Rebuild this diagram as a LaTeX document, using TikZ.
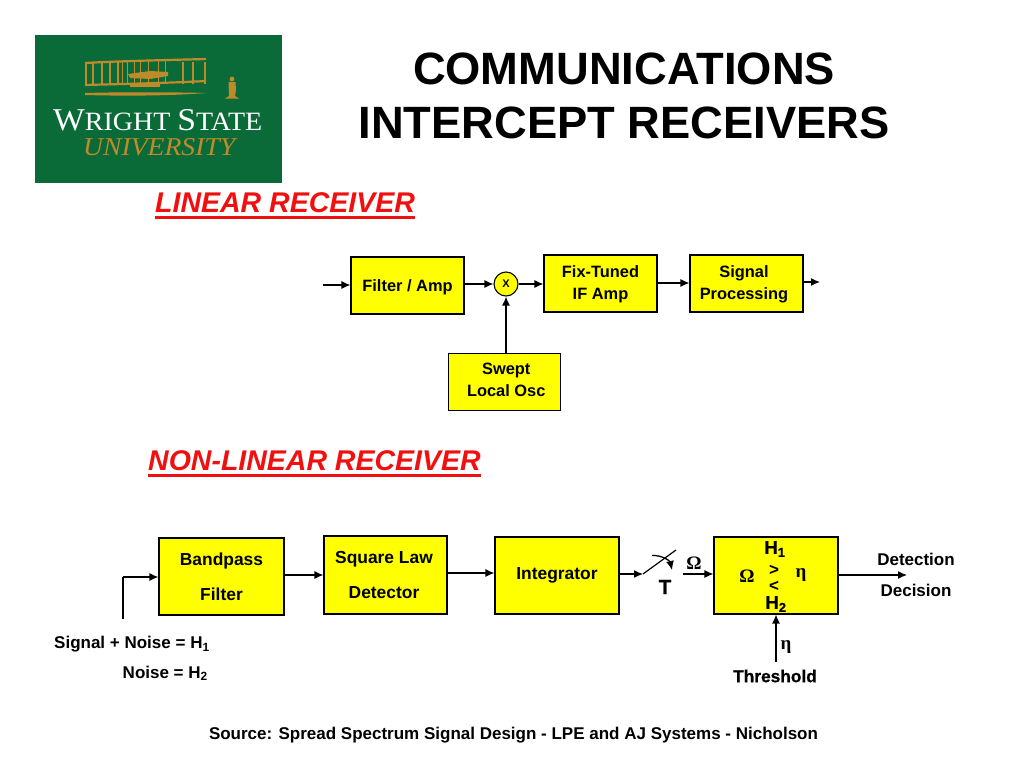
\documentclass[tikz,border=0pt]{standalone}
\usepackage{graphicx}
\usepackage{fontspec}
\setmainfont{Liberation Sans}
\newfontfamily\symserif{Liberation Serif}
\newfontfamily\logoserif{Liberation Serif}
\newfontfamily\heavy[FakeBold=0.7]{Liberation Sans Bold}
\usetikzlibrary{arrows.meta}
\definecolor{boxyellow}{HTML}{FFFF00}
\definecolor{logogreen}{HTML}{0B6B38}
\definecolor{logogold}{HTML}{BE8A2A}
\definecolor{headred}{HTML}{F01010}
\tikzset{
  x=1pt,y=-1pt,
  flow/.style={line width=1.3pt,-{Latex[length=9pt,width=8pt]}},
  block/.style={draw=black,line width=1.1pt,fill=boxyellow,inner sep=0pt,align=center,text=black,font=\fontsize{16.4}{22}\selectfont\bfseries},
  wideblock/.style={block,font=\fontsize{17.4}{35}\selectfont\bfseries},
  lab/.style={inner sep=0pt,text=black,font=\fontsize{17}{20}\selectfont\bfseries},
  greek/.style={inner sep=0pt,text=black,font=\fontsize{19}{20}\selectfont\symserif\bfseries},
  hv/.style={inner sep=0pt,text=black,font=\fontsize{17.3}{20}\selectfont\heavy},
  hvbig/.style={inner sep=0pt,text=black,font=\fontsize{18.5}{20}\selectfont\heavy},
  titletext/.style={inner sep=0pt,font=\fontsize{45.3}{54}\selectfont\bfseries,align=center},
  headtext/.style={inner sep=0pt,text=headred,font=\fontsize{28.5}{30}\selectfont\bfseries\itshape},
  headline/.style={headred,line width=2.7pt},
  gold/.style={draw=logogold,line width=1.3pt},
}
\begin{document}
\begin{tikzpicture}
\useasboundingbox (0,0) rectangle (1024,768);
\fill[white] (0,0) rectangle (1024,768);
% logo
\fill[logogreen] (35,35) rectangle (282,183);
\draw[gold,line width=2.2pt] (85,63) .. controls (120,61) and (170,60) .. (206,59);
\draw[gold,line width=2.2pt] (85,85) .. controls (120,84) and (170,83) .. (206,81);
\foreach \xx in {86,93,102,110,118,183,193,205}{\draw[gold] (\xx,62) -- (\xx,84);}
\foreach \xx in {122,127,134,140,148,158,165}{\draw[gold,line width=.8pt] (\xx,61) -- (\xx,84);}
\fill[logogold] (128,74) -- (150,71) -- (168,72) -- (168,76) -- (150,79) -- (130,78) -- cycle;
\fill[logogold] (130,84) rectangle (160,87);
\fill[logogold] (85,93) .. controls (120,92) and (170,92) .. (206,93) .. controls (170,96) and (120,96) .. (85,95) -- cycle;
\fill[logogold] (232,79) circle (2.4);
\fill[logogold] (228.5,82) -- (235.5,82) -- (236,90) -- (235,96) -- (239,98.5) -- (225,98.5) -- (229,96) -- cycle;
\node[inner sep=0pt,text=white,anchor=base west] (wsu) at (53,130) {\resizebox{209pt}{21pt}{\logoserif\fontsize{30}{30}\selectfont W\fontsize{25}{25}\selectfont RIGHT \fontsize{30}{30}\selectfont S\fontsize{25}{25}\selectfont TATE}};
\node[inner sep=0pt,text=logogold,anchor=base west] (wsu2) at (83,155) {\resizebox{152pt}{17pt}{\logoserif\itshape\fontsize{24}{24}\selectfont UNIVERSITY}};
% title
\node[titletext] (title) at (624,96) {COMMUNICATIONS\\INTERCEPT RECEIVERS};
% headings
\node[headtext,anchor=west] (linhead) at (155,203) {LINEAR RECEIVER};
\draw[headline] ([yshift=-4pt]linhead.south west) -- ([yshift=-4pt]linhead.south east);
\node[headtext,anchor=west] (nlhead) at (148,461) {NON-LINEAR RECEIVER};
\draw[headline] ([yshift=-4pt]nlhead.south west) -- ([yshift=-4pt]nlhead.south east);
% linear receiver
\node[block,minimum width=113pt,minimum height=57pt,text depth=0pt] (filt) at (407.5,285.5) {Filter / Amp};
\node[circle,draw=black,line width=1.1pt,fill=boxyellow,minimum size=24pt,inner sep=0pt,font=\fontsize{11}{12}\selectfont\bfseries] (mix) at (506,284) {X};
\node[block,minimum width=113pt,minimum height=57pt,text depth=1.4pt] (fix) at (600.5,283.5) {Fix-Tuned\\IF Amp};
\node[block,minimum width=113pt,minimum height=57pt,text depth=1.4pt] (sig) at (746.5,283.5) {Signal\hspace*{5pt}\\Processing\hspace*{5pt}};
\node[block,minimum width=112pt,minimum height=57pt,text depth=5.4pt] (swept) at (504.5,382) {\hspace*{3.5pt}Swept\\\hspace*{3.5pt}Local Osc};
\coordinate (linin) at (323,285);
\coordinate (linout) at (820,282);
\coordinate (fixrow) at (660,283);
\draw[flow] (linin) -- (linin -| filt.west);
\draw[flow] (mix.west -| filt.east) -- (mix.west);
\draw[flow] (mix.east) -- (mix.east -| fix.west);
\draw[flow] (fix.east |- fixrow) -- (sig.west |- fixrow);
\draw[flow] (linout -| sig.east) -- (linout);
\draw[flow] (mix.south |- swept.north) -- (mix.south);
% non-linear receiver
\node[wideblock,minimum width=125pt,minimum height=77pt] (band) at (221.5,576.5) {Bandpass\\Filter};
\node[wideblock,minimum width=123pt,minimum height=78pt,text depth=-4pt] (sq) at (385.5,575) {Square Law\hspace*{3pt}\\Detector\hspace*{3pt}};
\node[block,minimum width=124pt,minimum height=77pt,font=\fontsize{17.4}{22}\selectfont\bfseries] (integ) at (557,575.5) {Integrator};
\node[draw=black,line width=1.1pt,fill=boxyellow,minimum width=124pt,minimum height=77pt,inner sep=0pt] (dec) at (776,575.5) {};
\coordinate (bandfoot) at (123,619);
\coordinate (bandcorner) at (123,577);
\coordinate (sqrow) at (447,573);
\coordinate (swin) at (643,574);
\coordinate (swtip) at (676,550);
\coordinate (omstart) at (683,574);
\coordinate (decout) at (907,575);
\coordinate (thfoot) at (776,662);
\draw[line width=1.3pt] (bandfoot) -- (bandcorner);
\draw[flow] (bandcorner) -- (bandcorner -| band.west);
\draw[flow] (band.east |- sq.west) -- (sq.west);
\draw[flow] (sq.east |- sqrow) -- (integ.west |- sqrow);
\draw[flow] (integ.east |- swin) -- (swin);
\draw[line width=1.2pt] (swin) -- (swtip);
\draw[line width=1.3pt,-{Latex[length=9pt,width=8pt]}] (652,555.5) .. controls (662,555) and (670,561) .. (672,570);
\draw[flow] (omstart) -- (omstart -| dec.west);
\draw[flow] (dec.east |- decout) -- (decout);
\draw[flow] (thfoot) -- (thfoot |- dec.south);
% labels
\node[inner sep=0pt,font=\fontsize{20.5}{22}\selectfont\heavy] (tlab) at (665,587) {T};
\node[greek] (om1) at (694,563) {Ω};
\node[hvbig] (h1) at (775,549) {H\textsubscript{1}};
\node[lab] (gt) at (774,570) {>};
\node[lab] (lt) at (774,586) {<};
\node[hvbig] (h2) at (776,604) {H\textsubscript{2}};
\node[greek] (om2) at (747,576) {Ω};
\node[greek] (eta1) at (801,575) {η};
\node[greek] (eta2) at (786,647) {η};
\node[hv] (thr) at (775,676) {Threshold};
\node[lab] (det) at (916,559.5) {Detection};
\node[lab] (deci) at (916,590) {Decision};
\node[lab,anchor=west] (sn) at (54,644.5) {Signal + Noise = H\textsubscript{1}};
\node[lab,anchor=east] (no) at (208,673.5) {Noise = H\textsubscript{2}};
\node[lab] (src) at (513.5,735.5) {Source: Spread Spectrum Signal Design - LPE and AJ Systems - Nicholson};
\end{tikzpicture}
\end{document}
